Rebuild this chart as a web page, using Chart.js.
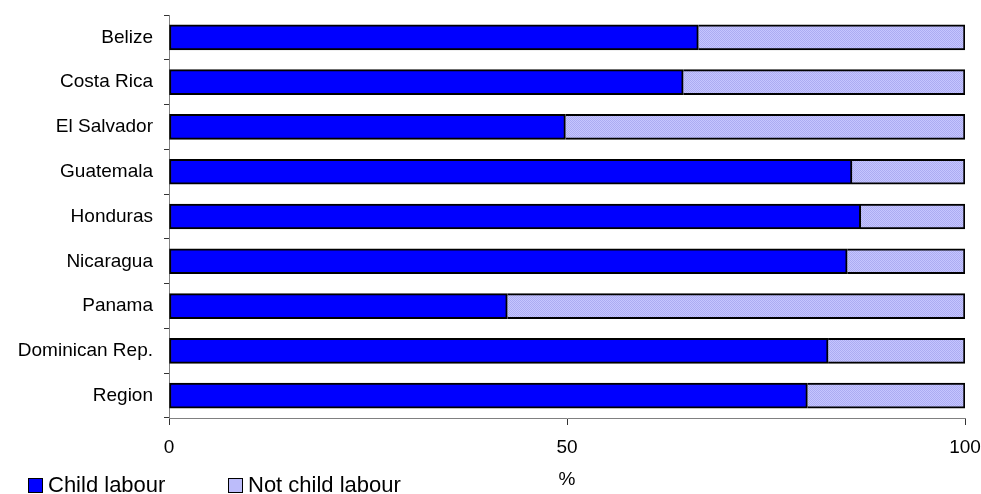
<!DOCTYPE html>
<html>
<head>
<meta charset="utf-8">
<title>Child labour by country</title>
<script src="https://cdn.jsdelivr.net/npm/chart.js@4.4.0/dist/chart.umd.min.js"></script>
<style>
    html, body {
        margin: 0;
        padding: 0;
        background: #ffffff;
        overflow: hidden;
    }
    #wrap {
        position: relative;
        width: 981px;
        height: 494px;
    }
    .legend {
        position: absolute;
        top: 474px;
        font-family: "Liberation Sans", Arial, sans-serif;
        font-size: 22px;
        line-height: 22px;
        color: #000;
        white-space: nowrap;
    }
    .legend .box {
        position: absolute;
        left: 0;
        top: 4px;
        width: 13px;
        height: 13px;
        border: 1px solid #000;
    }
    .legend span.label {
        position: absolute;
        left: 20px;
        top: 0;
    }
</style>
</head>
<body>
<div id="wrap">
    <canvas id="chart"></canvas>
    <div class="legend" style="left:28px">
        <div class="box" style="background:#0000ff"></div>
        <span class="label">Child labour</span>
    </div>
    <div class="legend" style="left:228px">
        <div class="box" style="background:#bcbcfa"></div>
        <span class="label">Not child labour</span>
    </div>
</div>
<script>
const countries = ["Belize", "Costa Rica", "El Salvador", "Guatemala", "Honduras",
    "Nicaragua", "Panama", "Dominican Rep.", "Region"];
const childLabour = [66.5, 64.6, 49.8, 85.8, 86.9, 85.2, 42.5, 82.8, 80.2];
const notChildLabour = [33.5, 35.4, 50.2, 14.2, 13.1, 14.8, 57.5, 17.2, 19.8];
const xTicks = [0, 50, 100];

const FONT = "'Liberation Sans', Arial, sans-serif";

// fine dotted light-blue fill for the second series
function dotPattern() {
    const c = document.createElement("canvas");
    c.width = 2;
    c.height = 2;
    const g = c.getContext("2d");
    g.fillStyle = "#c6c6ff";
    g.fillRect(0, 0, 2, 2);
    g.fillStyle = "#acacf2";
    g.fillRect(0, 0, 1, 1);
    g.fillRect(1, 1, 1, 1);
    return g.createPattern(c, "repeat");
}

const pattern = dotPattern();

new Chart(document.getElementById("chart"), {
    type: "bar",
    data: {
        labels: countries,
        datasets: [{
            label: "Child labour",
            data: childLabour,
            backgroundColor: "#0000ff",
            borderColor: "#000000",
            borderWidth: 2,
            borderSkipped: false,
            barThickness: 25
        }, {
            label: "Not child labour",
            data: notChildLabour,
            backgroundColor: pattern,
            borderColor: "#000000",
            borderWidth: { top: 2, bottom: 2, left: 0, right: 2 },
            borderSkipped: false,
            barThickness: 25
        }]
    },
    options: {
        indexAxis: "y",
        responsive: true,
        maintainAspectRatio: false,
        animation: false,
        layout: {
            padding: { top: 15, right: 16, bottom: 0, left: 0 }
        },
        plugins: {
            legend: { display: false },
            tooltip: { enabled: false }
        },
        scales: {
            x: {
                type: "linear",
                stacked: true,
                min: 0,
                max: 100,
                afterBuildTicks: scale => {
                    scale.ticks = xTicks.map(v => ({ value: v }));
                },
                afterFit: scale => {
                    // fixed axis band; end labels may hang over the margins
                    scale.height = 76;
                    scale.paddingLeft = 0;
                    scale.paddingRight = 0;
                },
                border: { display: true, color: "#808080", width: 1 },
                grid: {
                    drawOnChartArea: false,
                    drawTicks: true,
                    tickLength: 7,
                    color: "#333333"
                },
                ticks: {
                    padding: 11,
                    color: "#000",
                    font: { family: FONT, size: 19 }
                },
                title: {
                    display: true,
                    text: "%",
                    color: "#000",
                    padding: { top: 0, bottom: 3 },
                    font: { family: FONT, size: 19 }
                }
            },
            y: {
                stacked: true,
                afterFit: scale => {
                    scale.width = 169;
                    scale.paddingTop = 0;
                    scale.paddingBottom = 0;
                },
                border: { display: true, color: "#808080", width: 1 },
                grid: {
                    drawOnChartArea: false,
                    drawTicks: true,
                    tickLength: 5,
                    color: "#333333"
                },
                ticks: {
                    padding: 11,
                    color: "#000",
                    font: { family: FONT, size: 19 }
                }
            }
        }
    }
});
</script>
</body>
</html>
